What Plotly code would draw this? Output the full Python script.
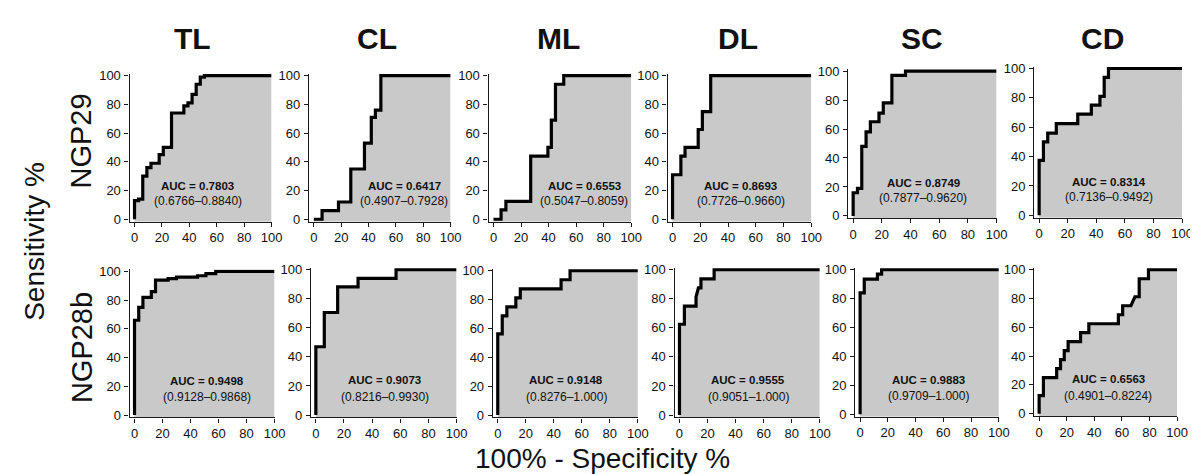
import plotly.graph_objects as go

# ---------------- data (ROC vertices: 100% - specificity, sensitivity) ----------------
columns = ["TL", "CL", "ML", "DL", "SC", "CD"]
rows = ["NGP29", "NGP28b"]

tl_29_x = [0, 0, 3, 3, 6, 6, 9, 9, 12, 12, 18, 18, 21, 21, 27, 27, 36, 36, 39, 39, 42, 42, 45, 45, 48, 48, 51, 51, 100]
tl_29_y = [0, 13, 13, 14, 14, 30, 30, 36, 36, 39, 39, 45, 45, 50, 50, 74, 74, 79, 79, 81, 81, 87, 87, 94, 94, 99, 99, 100, 100]

cl_29_x = [0, 6, 6, 18, 18, 27, 27, 37, 37, 42, 42, 45, 45, 49, 49, 100]
cl_29_y = [0, 0, 6, 6, 12, 12, 35, 35, 53, 53, 71, 71, 76, 76, 100, 100]

ml_29_x = [0, 5.5, 5.5, 9, 9, 27, 27, 39.5, 39.5, 42, 42, 45, 45, 51, 51, 100]
ml_29_y = [0, 0, 6.5, 6.5, 12.5, 12.5, 44, 44, 50, 50, 69, 69, 94, 94, 100, 100]

dl_29_x = [0, 0, 6, 6, 9, 9, 18.5, 18.5, 21.5, 21.5, 27.5, 27.5, 100]
dl_29_y = [0, 31, 31, 44, 44, 50, 50, 62.5, 62.5, 75, 75, 100, 100]

sc_29_x = [0, 0, 3, 3, 6, 6, 9, 9, 12, 12, 18, 18, 21, 21, 27, 27, 36.5, 36.5, 100]
sc_29_y = [0, 16, 16, 19, 19, 48, 48, 58, 58, 65, 65, 71, 71, 78, 78, 97, 97, 100, 100]

cd_29_x = [0, 0, 3, 3, 6, 6, 12, 12, 27, 27, 36.5, 36.5, 42.5, 42.5, 45.5, 45.5, 48.5, 48.5, 100]
cd_29_y = [0, 37.5, 37.5, 50, 50, 56, 56, 62.5, 62.5, 69, 69, 75, 75, 81, 81, 94, 94, 100, 100]

tl_28b_x = [0, 0, 3, 3, 6, 6, 12, 12, 15, 15, 24, 24, 30, 30, 45, 45, 51, 51, 58, 58, 100]
tl_28b_y = [0, 66, 66, 75, 75, 82, 82, 86, 86, 94, 94, 95, 95, 96, 96, 97, 97, 98.5, 98.5, 100, 100]

cl_28b_x = [0, 0, 6, 6, 15.5, 15.5, 30, 30, 57, 57, 100]
cl_28b_y = [0, 47, 47, 70.6, 70.6, 88.2, 88.2, 94.1, 94.1, 100, 100]

ml_28b_x = [0, 0, 3.2, 3.2, 6.5, 6.5, 12.9, 12.9, 16.1, 16.1, 45.2, 45.2, 51.6, 51.6, 100]
ml_28b_y = [0, 56.25, 56.25, 68.75, 68.75, 75, 75, 81.25, 81.25, 87.5, 87.5, 93.75, 93.75, 100, 100]

dl_28b_x = [0, 0, 3.5, 3.5, 11.8, 11.8, 13.5, 15.3, 15.3, 24.7, 24.7, 100]
dl_28b_y = [0, 62.5, 62.5, 75, 75, 81.25, 87.5, 87.5, 93.75, 93.75, 100, 100]

sc_28b_x = [0, 0, 3, 3, 12.5, 12.5, 15.5, 15.5, 100]
sc_28b_y = [0, 84, 84, 93.5, 93.5, 97, 97, 100, 100]

cd_28b_x = [0, 0, 3.1, 3.1, 12.7, 12.7, 15.5, 15.5, 18.2, 18.2, 21, 21, 30, 30, 36, 36,
            57.4, 57.4, 60.5, 60.5, 66.5, 69.4, 72.5, 72.5, 79.2, 79.2, 100]
cd_28b_y = [0, 12.5, 12.5, 25, 25, 31.25, 31.25, 37.5, 37.5, 43.75, 43.75, 50, 50, 56.25, 56.25, 62.5,
            62.5, 68.75, 68.75, 75, 75, 81.25, 81.25, 93.75, 93.75, 100, 100]

auc_29 = ["0.7803", "0.6417", "0.6553", "0.8693", "0.8749", "0.8314"]
ci_29 = ["0.6766–0.8840", "0.4907–0.7928", "0.5047–0.8059", "0.7726–0.9660", "0.7877–0.9620", "0.7136–0.9492"]
auc_28b = ["0.9498", "0.9073", "0.9148", "0.9555", "0.9883", "0.6563"]
ci_28b = ["0.9128–0.9868", "0.8216–0.9930", "0.8276–1.000", "0.9051–1.000", "0.9709–1.000", "0.4901–0.8224"]

tick_vals = [0, 20, 40, 60, 80, 100]

curves = [
    (tl_29_x, tl_29_y), (cl_29_x, cl_29_y), (ml_29_x, ml_29_y),
    (dl_29_x, dl_29_y), (sc_29_x, sc_29_y), (cd_29_x, cd_29_y),
    (tl_28b_x, tl_28b_y), (cl_28b_x, cl_28b_y), (ml_28b_x, ml_28b_y),
    (dl_28b_x, dl_28b_y), (sc_28b_x, sc_28b_y), (cd_28b_x, cd_28b_y),
]
aucs = auc_29 + auc_28b
cis = ci_29 + ci_28b

# ---------------- layout (pixel geometry of each panel) ----------------
W, H = 1198, 474
# (pixel of x=0, pixel of x=100, pixel of y=100, pixel of y=0)
geom = [
    (127.7, 266.0, 64.0, 210.7), (308.7, 446.7, 64.0, 210.7), (490.0, 629.0, 64.0, 210.7),
    (670.7, 810.7, 64.0, 210.7), (853.0, 997.7, 59.3, 207.3), (1040.7, 1185.0, 56.7, 206.7),
    (127.7, 269.0, 264.0, 410.7), (310.7, 452.7, 262.3, 410.7), (494.3, 635.7, 263.3, 410.7),
    (677.7, 819.3, 262.3, 410.7), (860.0, 1000.0, 262.3, 410.0), (1040.7, 1180.0, 262.3, 409.3),
]
auc_xpos = [46, 66, 66, 49, 49, 49, 52, 49, 49, 49, 49, 50]

FONT = "Arial, Liberation Sans, Helvetica, sans-serif"
FILL = "#c9c9c9"
AXC = "#1a1a1a"

fig = go.Figure()
layout = dict(
    width=W, height=H, margin=dict(l=0, r=0, t=0, b=0),
    paper_bgcolor="white", plot_bgcolor="rgba(0,0,0,0)",
    showlegend=False, font=dict(family=FONT, color="#111"),
)
annotations = []

for i, ((cx, cy), (px0, px100, py100, py0)) in enumerate(zip(curves, geom)):
    n = i + 1
    xs = "" if n == 1 else str(n)
    xa, ya = "x" + xs, "y" + xs
    sx = (px100 - px0) / 100.0
    sy = (py0 - py100) / 100.0
    left = px0 - 5
    bottom = py0 + 2.5
    top = py100 - 2
    xmin = -(px0 - left) / sx
    ymin = -(bottom - py0) / sy
    ymax = 100 + (py100 - top) / sy

    # grey area under the curve
    fig.add_trace(go.Scatter(
        x=list(cx) + [100, 0], y=list(cy) + [ymin, ymin],
        xaxis=xa, yaxis=ya, mode="lines", fill="toself",
        fillcolor=FILL, line=dict(width=0, color=FILL), hoverinfo="skip"))
    # ROC curve
    fig.add_trace(go.Scatter(
        x=cx, y=cy, xaxis=xa, yaxis=ya, mode="lines",
        line=dict(color="black", width=3.2), hoverinfo="skip"))

    axcommon = dict(showgrid=False, zeroline=False, showline=True, linecolor=AXC, linewidth=1.2,
                    ticks="outside", ticklen=4, tickwidth=1.2, tickcolor=AXC,
                    tickvals=tick_vals, tickfont=dict(family=FONT, size=13, color="#111"),
                    fixedrange=True)
    layout["xaxis" + xs] = dict(axcommon, domain=[left / W, px100 / W], range=[xmin, 100],
                                anchor=ya)
    layout["yaxis" + xs] = dict(axcommon, domain=[1 - bottom / H, 1 - top / H], range=[ymin, ymax],
                                anchor=xa, ticklabelstandoff=1)

    row2 = i >= 6
    annotations.append(dict(x=auc_xpos[i], y=24 if row2 else 23, xref=xa, yref=ya,
                            text="<b>AUC = " + aucs[i] + "</b>", showarrow=False,
                            font=dict(family=FONT, size=11.5, color="#111")))
    annotations.append(dict(x=auc_xpos[i], y=12.5, xref=xa, yref=ya,
                            text="(" + cis[i] + ")", showarrow=False,
                            font=dict(family=FONT, size=12, color="#111")))

# column titles
col_cx = [186, 372, 556, 737, 922, 1105]
for name, cxp in zip(columns, col_cx):
    annotations.append(dict(x=cxp / W, y=1 - 26 / H, xref="paper", yref="paper", text="<b>" + name + "</b>",
                            showarrow=False, xanchor="center", yanchor="middle",
                            font=dict(family=FONT, size=30, color="#111")))
# row labels
for name, cyp in zip(rows, [131, 342]):
    annotations.append(dict(x=74 / W, y=1 - cyp / H, xref="paper", yref="paper", text=name,
                            showarrow=False, textangle=-90, xanchor="center", yanchor="middle",
                            font=dict(family=FONT, size=29, color="#111")))
annotations.append(dict(x=26 / W, y=1 - 233 / H, xref="paper", yref="paper", text="Sensitivity %",
                        showarrow=False, textangle=-90, xanchor="center", yanchor="middle",
                        font=dict(family=FONT, size=28, color="#111")))
annotations.append(dict(x=600 / W, y=1 - 455 / H, xref="paper", yref="paper", text="100% - Specificity %",
                        showarrow=False, xanchor="center", yanchor="middle",
                        font=dict(family=FONT, size=28, color="#111")))

layout["annotations"] = annotations
fig.update_layout(**layout)
fig.write_html("out.html")
